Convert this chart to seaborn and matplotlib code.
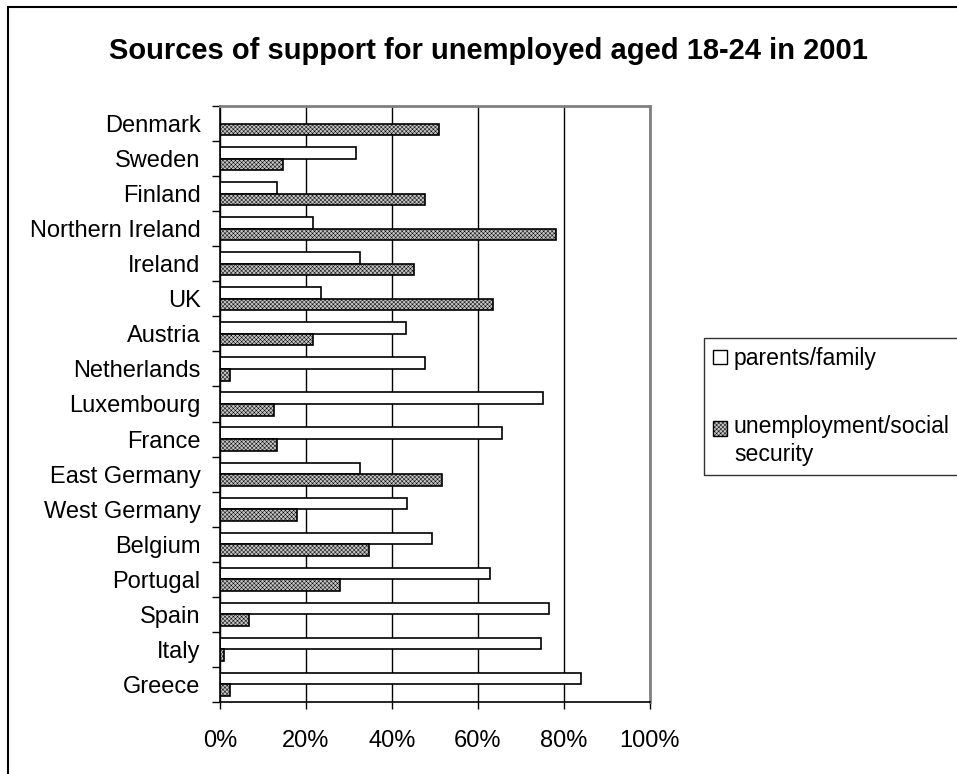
import pandas as pd
import numpy as np
import matplotlib.pyplot as plt
import matplotlib.patches as mpatches
from matplotlib.legend_handler import HandlerPatch
import seaborn as sns

# values, in percent (top to bottom)
countries = ["Denmark", "Sweden", "Finland", "Northern Ireland", "Ireland", "UK",
             "Austria", "Netherlands", "Luxembourg", "France", "East Germany",
             "West Germany", "Belgium", "Portugal", "Spain", "Italy", "Greece"]
parents_family = [0.0, 31.6, 13.3, 21.7, 32.6, 23.4, 43.2, 47.6, 75.0, 65.6,
                  32.6, 43.5, 49.3, 62.9, 76.5, 74.7, 84.0]
social_security = [50.9, 14.7, 47.6, 78.2, 45.2, 63.6, 21.7, 2.3, 12.6, 13.3,
                   51.7, 18.0, 34.7, 27.9, 6.7, 0.9, 2.3]
series_names = ["parents/family", "unemployment/social security"]
xticks = [0, 20, 40, 60, 80, 100]

df = pd.DataFrame({
    "Country": countries * 2,
    "Share": parents_family + social_security,
    "Source": [series_names[0]] * len(countries) + [series_names[1]] * len(countries),
})

sns.set_theme(style="white")
plt.rcParams["font.family"] = ["Liberation Sans", "DejaVu Sans"]
plt.rcParams["hatch.linewidth"] = 0.35
plt.rcParams["text.color"] = "black"
plt.rcParams["xtick.color"] = "black"
plt.rcParams["ytick.color"] = "black"

hatch_fill = "#c4c4c4"

fig = plt.figure(figsize=(9.57, 7.74), dpi=100)
ax = fig.add_axes([220 / 957, 1 - 702 / 774, 430 / 957, 596 / 774])

sns.barplot(data=df, x="Share", y="Country", hue="Source", order=countries,
            hue_order=series_names, palette=["white", hatch_fill],
            errorbar=None, width=0.66, edgecolor="black", linewidth=1.2,
            legend=False, ax=ax)

# second series gets the fine grey texture
for bar in ax.containers[1]:
    bar.set_hatch("xxxxxxxx")

ax.set_xlim(0, 100)
ax.set_ylim(len(countries) - 0.5, -0.5)
ax.set_xticks(xticks)
ax.set_xticklabels([f"{t}%" for t in xticks], fontsize=17)
ax.set_xlabel("")
ax.set_ylabel("")
ax.tick_params(axis="y", which="major", length=0, pad=14, labelsize=17)
ax.set_yticks(np.arange(len(countries) + 1) - 0.5, minor=True)
ax.tick_params(axis="y", which="minor", left=True, length=6, width=1, color="black", direction="out")
ax.tick_params(axis="x", bottom=True, length=5, width=1, color="black", direction="out", pad=15)

ax.grid(axis="x", color="black", linewidth=1)
ax.set_axisbelow(True)
for side in ["top", "right"]:
    ax.spines[side].set_visible(True)
    ax.spines[side].set_color("#808080")
    ax.spines[side].set_linewidth(2)
for side in ["left", "bottom"]:
    ax.spines[side].set_color("black")
    ax.spines[side].set_linewidth(1.2)

fig.text(488 / 957, 1 - 51 / 774, "Sources of support for unemployed aged 18-24 in 2001",
         ha="center", va="center", fontsize=21, fontweight="bold", color="black")


# legend key for the wrapped label sits next to its first line
def raised_box(legend, orig_handle, xdescent, ydescent, width, height, fontsize):
    return mpatches.Rectangle((-xdescent, -ydescent + 0.55 * fontsize), width, height)


handles = [
    mpatches.Patch(facecolor="white", edgecolor="black", linewidth=1),
    mpatches.Patch(facecolor=hatch_fill, edgecolor="black", linewidth=1, hatch="xxxxxxxx"),
]
leg = fig.legend(handles, ["parents/family", "unemployment/social\nsecurity"],
                 loc="upper left", bbox_to_anchor=(704 / 957, 1 - 338 / 774),
                 fontsize=16.6, frameon=True, fancybox=False, handlelength=0.6,
                 handleheight=0.6, handletextpad=0.3, labelspacing=1.95,
                 borderpad=0.4, borderaxespad=0,
                 handler_map={handles[1]: HandlerPatch(patch_func=raised_box)})
leg.get_frame().set_edgecolor("black")
leg.get_frame().set_linewidth(1)
for t in leg.get_texts():
    t.set_linespacing(1.25)

fig.patches.append(mpatches.Rectangle((8 / 957, -0.1), 2, 1.1 - 7 / 774, fill=False,
                                      edgecolor="black", linewidth=1.5,
                                      transform=fig.transFigure, figure=fig))

fig.savefig("out.png", dpi=100)
